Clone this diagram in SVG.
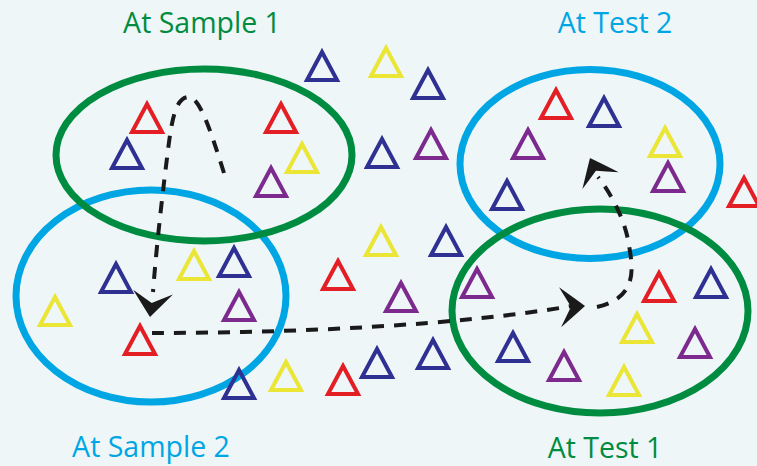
<svg xmlns="http://www.w3.org/2000/svg" xmlns:xlink="http://www.w3.org/1999/xlink" width="757" height="466" viewBox="0 0 757 466">
<style>
.bg{fill:#EEF6F8}
.ell{fill:none;stroke-width:7}
.g{stroke:#008C40}
.b{stroke:#00A6E3}
.tri{fill:none;stroke-width:4;stroke-linejoin:miter}
.r{stroke:#E31E25}
.n{stroke:#2E3192}
.y{stroke:#EBE535}
.p{stroke:#7D2A8E}
.dash{fill:none;stroke:#1A1A1A;stroke-width:4;stroke-dasharray:12 10}
.ah{fill:#1A1A1A}
.lbl{font-family:"Open Sans","Noto Sans",sans-serif;font-size:28.5px;text-anchor:middle}
.lg{fill:#008C40}
.lb{fill:#00A6E3}
</style>
<defs>
<path id="t" d="M0,-13L15,15H-15Z"/>
<path id="a" d="M0,0Q-11,-9 -25,-20Q-19,-9 -14,0Q-19,9 -25,20Q-11,9 0,0Z"/>
</defs>
<rect class="bg" width="757" height="466"/>
<g id="sample2">
<ellipse class="ell b" cx="151" cy="296" rx="135" ry="106"/>
<text class="lbl lb" x="151" y="457">At Sample 2</text>
</g>
<g id="test2">
<ellipse class="ell b" cx="590" cy="164" rx="130" ry="94.5"/>
<text class="lbl lb" x="615" y="33">At Test 2</text>
</g>
<g id="sample1">
<ellipse class="ell g" cx="204" cy="155" rx="148" ry="86"/>
<text class="lbl lg" x="202" y="33">At Sample 1</text>
</g>
<g id="test1">
<ellipse class="ell g" cx="600" cy="311" rx="148" ry="102"/>
<text class="lbl lg" x="605" y="458">At Test 1</text>
</g>
<g id="triangles" class="tri">
<use xlink:href="#t" x="147" y="117" class="r"/>
<use xlink:href="#t" x="127" y="153" class="n"/>
<use xlink:href="#t" x="281" y="117" class="r"/>
<use xlink:href="#t" x="302" y="157" class="y"/>
<use xlink:href="#t" x="271" y="181" class="p"/>
<use xlink:href="#t" x="322" y="65" class="n"/>
<use xlink:href="#t" x="386" y="61" class="y"/>
<use xlink:href="#t" x="428" y="83" class="n"/>
<use xlink:href="#t" x="382" y="152" class="n"/>
<use xlink:href="#t" x="431" y="143" class="p"/>
<use xlink:href="#t" x="556" y="103" class="r"/>
<use xlink:href="#t" x="604" y="111" class="n"/>
<use xlink:href="#t" x="528" y="143" class="p"/>
<use xlink:href="#t" x="665" y="141" class="y"/>
<use xlink:href="#t" x="668" y="176" class="p"/>
<use xlink:href="#t" x="744" y="191" class="r"/>
<use xlink:href="#t" x="507" y="194" class="n"/>
<use xlink:href="#t" x="381" y="240" class="y"/>
<use xlink:href="#t" x="446" y="240" class="n"/>
<use xlink:href="#t" x="194" y="264" class="y"/>
<use xlink:href="#t" x="234" y="261" class="n"/>
<use xlink:href="#t" x="116" y="277" class="n"/>
<use xlink:href="#t" x="239" y="305" class="p"/>
<use xlink:href="#t" x="55" y="310" class="y"/>
<use xlink:href="#t" x="140" y="339" class="r"/>
<use xlink:href="#t" x="338" y="274" class="r"/>
<use xlink:href="#t" x="239" y="383" class="n"/>
<use xlink:href="#t" x="286" y="375" class="y"/>
<use xlink:href="#t" x="343" y="379" class="r"/>
<use xlink:href="#t" x="377" y="362" class="n"/>
<use xlink:href="#t" x="433" y="353" class="n"/>
<use xlink:href="#t" x="477" y="282" class="p"/>
<use xlink:href="#t" x="401" y="296" class="p"/>
<use xlink:href="#t" x="659" y="286" class="r"/>
<use xlink:href="#t" x="711" y="282" class="n"/>
<use xlink:href="#t" x="637" y="327" class="y"/>
<use xlink:href="#t" x="695" y="342" class="p"/>
<use xlink:href="#t" x="513" y="346" class="n"/>
<use xlink:href="#t" x="564" y="365" class="p"/>
<use xlink:href="#t" x="624" y="380" class="y"/>
</g>
<g id="connectors">
<path class="dash" d="M224,173C212,135 200,97 189,97C176,97 172,118 168,150C163,190 157,240 153,292"/>
<use xlink:href="#a" class="ah" transform="translate(150,317) rotate(97)"/>
<path class="dash" d="M152,333C300,333 460,325 572,306"/>
<use xlink:href="#a" class="ah" transform="translate(585,306) rotate(-3)"/>
<path class="dash" d="M597,307C640,297 632,265 629,245C625,220 612,195 598,177"/>
<use xlink:href="#a" class="ah" transform="translate(590,158) rotate(-115)"/>
</g>
</svg>
